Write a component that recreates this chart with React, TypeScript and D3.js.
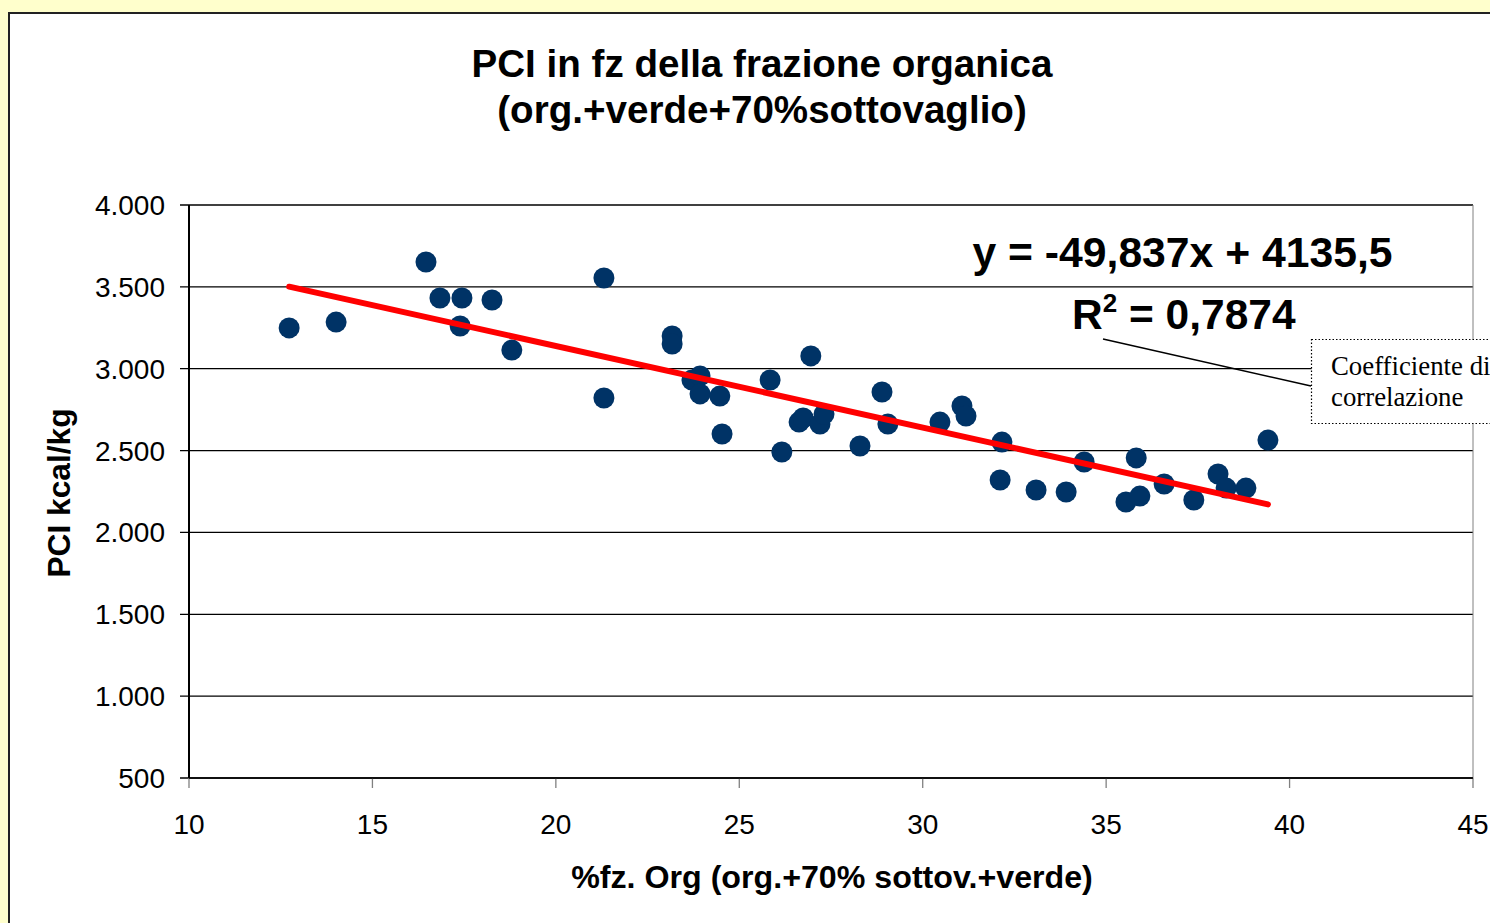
import * as d3 from "d3";

const xValues = [
  12.73, 14.01, 16.46, 16.84, 17.44, 17.39, 18.26, 18.8, 21.31, 21.31, 23.17,
  23.17, 23.71, 23.93, 23.93, 24.47, 24.53, 25.84, 26.16, 26.63, 26.74, 26.95,
  27.2, 27.31, 28.29, 28.89, 29.05, 30.47, 31.07, 31.18, 32.16, 32.11, 33.09,
  33.91, 34.4, 35.54, 35.82, 35.92, 36.58, 37.39, 38.05, 38.27, 38.81, 39.41,
];
const yValues = [
  3249, 3285, 3652, 3432, 3432, 3261, 3420, 3114, 3554, 2821, 3200, 3151, 2931,
  2956, 2846, 2833, 2601, 2931, 2491, 2674, 2699, 3078, 2662, 2723, 2528, 2858,
  2662, 2674, 2772, 2711, 2552, 2320, 2259, 2247, 2430, 2186, 2455, 2222, 2296,
  2198, 2357, 2271, 2271, 2564,
];
const slope = -49.837;
const intercept = 4135.5;

const xTicks = [10, 15, 20, 25, 30, 35, 40, 45];
const yTicks = [500, 1000, 1500, 2000, 2500, 3000, 3500, 4000];
const yTickLabels = ["500", "1.000", "1.500", "2.000", "2.500", "3.000", "3.500", "4.000"];

const title1 = "PCI in fz della frazione organica";
const title2 = "(org.+verde+70%sottovaglio)";
const xTitle = "%fz. Org (org.+70% sottov.+verde)";
const yTitle = "PCI kcal/kg";
const eqText = "y = -49,837x + 4135,5";
const noteLines = ["Coefficiente di", "correlazione"];

const width = 1490;
const height = 923;
const left = 189;
const right = 1473;
const top = 205;
const bottom = 778;
const sans = "Arial, 'Liberation Sans', sans-serif";
const serif = "'Times New Roman', 'Liberation Serif', serif";

export default function App() {
  const x = d3.scaleLinear().domain([10, 45]).range([left, right]);
  const y = d3.scaleLinear().domain([500, 4000]).range([bottom, top]);

  const pts = xValues.map((v, i) => ({ x: v, y: yValues[i] }));
  const [xmin, xmax] = d3.extent(xValues) as [number, number];
  const trend = d3
    .line<number>()
    .x((d) => x(d))
    .y((d) => y(slope * d + intercept))([xmin, xmax]);

  return (
    <svg
      width={width}
      height={height}
      style={{ position: "absolute", left: 0, top: 0 }}
    >
      <rect width={width} height={height} fill="#FFFFCC" />
      <rect x={9} y={13} width={width + 20} height={height + 20} fill="#fff" stroke="#222" strokeWidth={2} />

      <text x={762} textAnchor="middle" fontFamily={sans} fontWeight="bold" fontSize={38.6}>
        <tspan x={762} y={77}>{title1}</tspan>
        <tspan x={762} y={123}>{title2}</tspan>
      </text>

      {/* gridlines + y ticks */}
      {yTicks.map((t) => (
        <line key={t} x1={left - 9} x2={right} y1={y(t)} y2={y(t)} stroke="#000" strokeWidth={1.3} />
      ))}
      <line x1={right} x2={right} y1={top} y2={bottom} stroke="#808080" strokeWidth={1} />
      {xTicks.map((t) => (
        <line key={t} x1={x(t)} x2={x(t)} y1={bottom} y2={bottom + 10} stroke="#808080" strokeWidth={1.3} />
      ))}
      <line x1={left} x2={left} y1={top} y2={bottom} stroke="#000" strokeWidth={2} />
      <line x1={left} x2={right} y1={bottom} y2={bottom} stroke="#000" strokeWidth={1.5} />

      {yTicks.map((t, i) => (
        <text key={t} x={165} y={y(t) + 10} textAnchor="end" fontFamily={sans} fontSize={28}>
          {yTickLabels[i]}
        </text>
      ))}
      {xTicks.map((t) => (
        <text key={t} x={x(t)} y={834} textAnchor="middle" fontFamily={sans} fontSize={28}>
          {t}
        </text>
      ))}

      <text x={832} y={888} textAnchor="middle" fontFamily={sans} fontWeight="bold" fontSize={32.2}>
        {xTitle}
      </text>
      <text
        transform={`translate(70,${493}) rotate(-90)`}
        textAnchor="middle"
        fontFamily={sans}
        fontWeight="bold"
        fontSize={31.7}
      >
        {yTitle}
      </text>

      {pts.map((d, i) => (
        <circle key={i} cx={x(d.x)} cy={y(d.y)} r={10.5} fill="#003366" />
      ))}

      <path d={trend ?? ""} fill="none" stroke="#FF0000" strokeWidth={6} strokeLinecap="round" />

      <text x={1182.5} y={267} textAnchor="middle" fontFamily={sans} fontWeight="bold" fontSize={42.7}>
        {eqText}
      </text>
      <text x={1072} y={329} fontFamily={sans} fontWeight="bold" fontSize={42.5}>
        R<tspan dy={-17} fontSize={26}>2</tspan>
        <tspan dy={17}> = 0,7874</tspan>
      </text>

      <line x1={1103} y1={339} x2={1311} y2={386} stroke="#000" strokeWidth={1.5} />
      <rect x={1311.5} y={339.5} width={200} height={84} fill="#fff" stroke="#000" strokeWidth={1.2} strokeDasharray="1.5 2" />
      <text fontFamily={serif} fontSize={26.8} fill="#000">
        <tspan x={1331} y={375}>{noteLines[0]}</tspan>
        <tspan x={1331} y={406}>{noteLines[1]}</tspan>
      </text>
    </svg>
  );
}
